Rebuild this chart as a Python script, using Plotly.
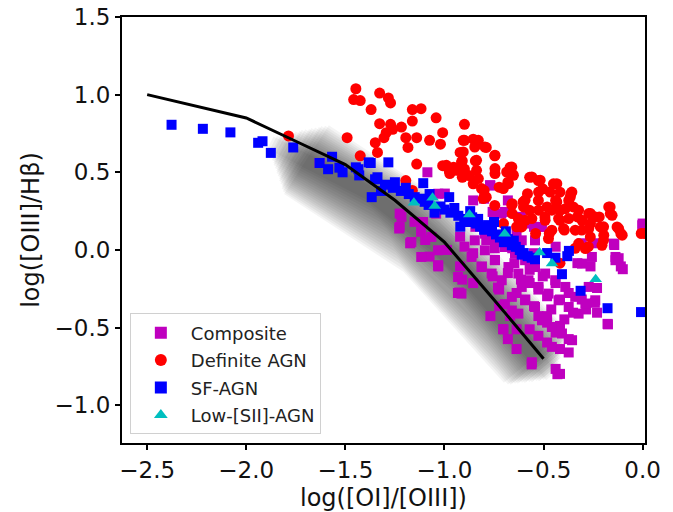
import numpy as np
import plotly.graph_objects as go

# Demarcation line
line_x = [-2.5, -2.0, -1.75, -1.5, -1.25, -1.0, -0.75, -0.5]
line_y = [1.0, 0.85, 0.70, 0.55, 0.32, 0.05, -0.32, -0.70]

# Composite (magenta squares)
comp_x = [-1.63, -1.086, -0.768, -1.031, -0.8, -1.042, -1.217, -1.151, -1.228, -1.118, -1.173, -1.097,
          -1.075, -1.031, -0.921, -0.899, -0.855, -0.921, -0.91, -0.932, -0.811, -0.746, -0.757, -0.724,
          -0.647, -0.68, -0.614, -0.57, -0.636, -0.592, -0.526, -0.482, -0.548, -0.461, -0.417, -0.373,
          -0.307, -0.241, -0.285, -0.351, -0.395, -0.482, -0.439, -0.373, -0.417, -0.373, -0.482, -0.526,
          -0.57, -0.636, -0.702, -0.68, -0.636, -0.559, -0.439, -0.417, -0.175, -0.23, -0.23, -0.11,
          -0.121, -0.143, 0.0, -0.329, -0.263, -0.241, -0.307, -0.439, -0.548, -0.746, -0.789, -0.636,
          -0.614, -0.548, -0.658, -0.57, -0.504, -0.439, -0.724, -0.768, -0.669, -0.482, -0.526, -0.417,
          -0.855, -0.987, -0.844, -0.757, -0.68, -0.713, -0.855, -0.43, -0.56, -0.704, -0.925, -0.1,
          -0.126, -0.177, -0.73, -0.695, -0.66,
          -0.77, -0.998, -0.753, -0.695, -0.576, -0.508, -0.145, -0.137, -0.002,
          -0.847, -0.796, -0.745, -0.677, -0.627, -0.576, -0.525, -0.475, -0.424, -0.373, -0.323,
          -0.593, -0.543, -0.508, -0.458, -0.407, -0.356, -0.458, -0.627, -0.66, -0.61, -0.711,
          -0.762, -0.813, -0.863, -0.272, -0.239, -0.289, -0.34, -0.39, -0.441, -0.492, -0.543,
          -0.593, -0.644, -0.695, -0.745, -0.796, -0.61, -0.543, -0.306, -0.256, -0.137,
          -1.226, -1.226, -1.167, -1.117, -1.032, -1.108, -1.066, -1.032, -0.914, -0.931]
comp_y = [0.56, 0.5, 0.415, 0.362, 0.33, 0.234, 0.213, 0.181, 0.138, 0.117, 0.043, 0.064,
          -0.043, -0.106, 0.085, 0.021, -0.021, -0.106, -0.191, -0.277, -0.106, -0.064, -0.17, -0.255,
          -0.085, -0.149, -0.191, -0.213, -0.277, -0.319, -0.255, -0.298, -0.362, -0.383, -0.319, -0.277,
          -0.319, -0.34, -0.383, -0.404, -0.447, -0.468, -0.532, -0.574, -0.638, -0.66, -0.596, -0.553,
          -0.511, -0.511, -0.511, -0.574, -0.638, -0.723, -0.766, -0.798, -0.479, -0.404, -0.245, -0.106,
          -0.053, 0.032, 0.17, -0.085, -0.106, 0.043, 0.043, 0.021, -0.021, 0.011, 0.064, 0.106,
          0.213, 0.149, 0.011, -0.128, -0.17, -0.213, -0.362, -0.426, -0.426, -0.426, -0.426, -0.489,
          -0.213, 0.0, 0.149, 0.245, 0.319, 0.234, 0.319, -0.8, -0.737, -0.51, -0.274, -0.124,
          -0.058, -0.476, -0.242, -0.349, -0.39,
          0.417, 0.363, 0.245, 0.245, 0.17, 0.148, 0.041, -0.045, 0.159,
          0.062, -0.002, -0.066, -0.11, -0.152, -0.195, -0.238, -0.281, -0.324, -0.367, -0.41,
          -0.324, -0.367, -0.453, -0.496, -0.538, -0.581, -0.624, -0.41, -0.302, -0.238, -0.195,
          -0.152, -0.11, -0.045, -0.238, -0.324, -0.345, -0.302, -0.238, -0.195, -0.152, -0.11,
          -0.066, -0.023, 0.019, 0.062, 0.105, 0.062, 0.062, -0.088, -0.045, -0.066,
          0.234, 0.148, 0.051, -0.045, -0.098, 0.18, 0.084, -0.002, -0.281, -0.174]

# Definite AGN (red circles)
agn_x = [-1.447, -1.458, -1.425, -1.327, -1.283, -1.272, -1.37, -1.162, -1.118, -1.042, -1.162, -1.327,
         -1.272, -1.217, -0.899, -1.261, -1.294, -1.305, -1.491, -1.195, -1.14, -1.075, -1.009, -0.899,
         -0.855, -0.833, -0.789, -1.02, -1.349, -1.184, -1.338, -0.921, -0.746, -0.91, -0.844, -1.14,
         -1.009, -0.954, -0.976, -0.899, -0.877, -0.91, -0.669, -0.658, -0.68, -0.724, -0.855, -0.8,
         -0.789, -1.195, -1.162, -1.425, -0.57, -0.526, -0.45, -0.504, -0.581, -0.417, -0.362, -0.373,
         -0.439, -0.526, -0.603, -0.658, -0.658, -0.57, -0.482, -0.417, -0.35, -0.329, -0.417, -0.493,
         -0.592, -0.263, -0.219, -0.164, -0.154, -0.121, -0.11, -0.197, -0.263, -0.307, -0.395, -0.471,
         -0.197, -0.274, -0.34, -0.417, 0.011, -0.54, -0.636, -0.702, -0.746, -1.787,
         -0.905, -0.829, -0.847, -0.796, -0.905, -0.745, -0.838, -0.914, -0.99, -0.94, -0.973, -0.838,
         -0.745, -0.745, -0.686, -0.66, -0.652, -0.829, -0.677, -0.703, -0.813, -0.804, -0.559, -0.517,
         -0.433, -0.467, -0.525, -0.357, -0.365, -0.433, -0.593, -0.66, -0.601, -0.525, -0.458, -0.39,
         -0.323, -0.272, -0.171, -0.163, -0.559, -0.492, -0.424, -0.373, -0.306, -0.239, -0.627, -0.61,
         -0.458, -0.399, -0.34, -0.272, -0.213, -0.129, -0.103, -0.196, -0.264, -0.475, -0.205, -0.289,
         -0.323, -0.007]
agn_y = [1.038, 0.968, 0.962, 1.01, 0.979, 0.947, 0.904, 0.904, 0.91, 0.851, 0.83, 0.813,
         0.809, 0.791, 0.809, 0.777, 0.755, 0.723, 0.723, 0.723, 0.723, 0.706, 0.755, 0.706,
         0.713, 0.681, 0.66, 0.681, 0.691, 0.66, 0.628, 0.628, 0.606, 0.574, 0.574, 0.553,
         0.543, 0.532, 0.51, 0.521, 0.479, 0.468, 0.532, 0.489, 0.436, 0.404, 0.426, 0.383,
         0.34, 0.447, 0.383, 0.606, 0.468, 0.447, 0.426, 0.394, 0.362, 0.372, 0.362, 0.319,
         0.319, 0.319, 0.309, 0.298, 0.234, 0.255, 0.277, 0.255, 0.277, 0.213, 0.191, 0.213,
         0.191, 0.234, 0.213, 0.277, 0.223, 0.138, 0.106, 0.149, 0.17, 0.128, 0.128, 0.106,
         0.064, 0.021, 0.011, -0.085, 0.106, 0.106, 0.149, 0.17, 0.287, 0.734,
         0.706, 0.706, 0.663, 0.663, 0.631, 0.61, 0.577, 0.566, 0.545, 0.513, 0.492, 0.513,
         0.524, 0.492, 0.502, 0.534, 0.481, 0.46, 0.427, 0.395, 0.395, 0.331, 0.47, 0.449,
         0.427, 0.373, 0.373, 0.373, 0.341, 0.309, 0.32, 0.288, 0.277, 0.256, 0.256, 0.266,
         0.256, 0.234, 0.277, 0.234, 0.202, 0.191, 0.202, 0.202, 0.191, 0.212, 0.202, 0.148,
         0.127, 0.138, 0.127, 0.138, 0.148, 0.148, 0.095, 0.095, 0.084, 0.073, 0.03, 0.009,
         0.041, 0.106]

# SF-AGN (blue squares)
sf_x = [-2.377, -2.219, -2.08, -1.94, -1.918, -1.876, -1.763, -1.63, -1.567, -1.587, -1.53, -1.514,
        -1.434, -1.43, -1.372, -1.367, -1.35, -1.382, -1.283, -1.447, -1.338, -1.107, -1.25, -1.195,
        -0.976, -1.075, -1.3, -1.32, -1.26, -1.22, -1.18, -1.15, -1.12, -1.1, -1.08, -1.02, -1.0,
        -0.97, -0.95, -0.93, -0.9, -0.88, -0.86, -0.84, -0.82, -0.8, -0.78, -0.76, -0.74, -0.72,
        -0.7, -0.68, -0.66, -0.64, -0.62, -0.6, -0.58, -0.56, -1.05, -0.92, -0.87, -0.75, -0.83,
        -0.69, -0.65, -0.372, -0.38, -0.44, -0.407, -0.313, -0.177, -0.008, -0.543, -0.61, -0.482]
sf_y = [0.806, 0.78, 0.757, 0.69, 0.70, 0.625, 0.66, 0.56, 0.60, 0.52, 0.53, 0.50,
        0.52, 0.48, 0.56, 0.34, 0.455, 0.564, 0.564, 0.532, 0.468, 0.43, 0.436, 0.40,
        0.34, 0.36, 0.42, 0.38, 0.40, 0.38, 0.36, 0.34, 0.33, 0.31, 0.29, 0.28, 0.26,
        0.24, 0.27, 0.22, 0.2, 0.18, 0.21, 0.17, 0.15, 0.13, 0.16, 0.12, 0.1, 0.08,
        0.05, 0.07, 0.03, 0.02, 0.0, -0.02, -0.04, -0.05, 0.24, 0.15, 0.25, 0.18, 0.2,
        0.12, 0.06, -0.006, -0.04, -0.05, -0.156, -0.263, -0.375, -0.40, -0.06, -0.03, -0.02]

# Low-[SII]-AGN (cyan triangles)
low_x = [-1.154, -1.06, -1.049, -0.874, -0.696, -0.52, -0.457, -0.237]
low_y = [0.304, 0.336, 0.283, 0.229, 0.105, -0.017, -0.088, -0.188]

fig = go.Figure()

# soft grey shading along the demarcation line (decorative blur, tapered ends)
base_x = [x + 0.04 for x in line_x[1:]]
base_y = [y - 0.11 for y in line_y[1:]]
n_pts = len(base_x)
t = np.linspace(0, n_pts - 1, 240)
sx = np.interp(t, np.arange(n_pts), base_x)
sy = np.interp(t, np.arange(n_pts), base_y)
n_layers = 18
for i in range(n_layers):
    w = 82 - i * 4
    frac = (n_layers - i) / n_layers
    trim_a = int(30 * frac) + 12
    trim_b = int(12 * frac)
    xs = sx[trim_a: len(sx) - trim_b]
    ys = sy[trim_a: len(sy) - trim_b]
    fig.add_trace(go.Scatter(x=xs, y=ys, mode="lines", showlegend=False, hoverinfo="skip",
                             line=dict(color="rgba(0,0,0,0.045)", width=w)))

fig.add_trace(go.Scatter(x=comp_x, y=comp_y, mode="markers", name="Composite", legendgroup="a",
                         marker=dict(symbol="square", color="#bf00bf", size=10)))
fig.add_trace(go.Scatter(x=agn_x, y=agn_y, mode="markers", name="Definite AGN", legendgroup="b",
                         marker=dict(symbol="circle", color="#ff0000", size=11)))
fig.add_trace(go.Scatter(x=sf_x, y=sf_y, mode="markers", name="SF-AGN", legendgroup="c",
                         marker=dict(symbol="square", color="#0000ff", size=10)))
fig.add_trace(go.Scatter(x=low_x, y=low_y, mode="markers", name="Low-[SII]-AGN", legendgroup="d",
                         marker=dict(symbol="triangle-up", color="#00bfbf", size=11)))
fig.add_trace(go.Scatter(x=line_x, y=line_y, mode="lines", showlegend=False,
                         line=dict(color="black", width=3)))

axis_common = dict(showgrid=False, zeroline=False, showline=True, linecolor="black", linewidth=2,
                   mirror=True, ticks="outside", ticklen=5, tickwidth=1.5, tickcolor="black",
                   automargin=False,
                   tickfont=dict(size=23, color="#111"), title_font=dict(size=24, color="#111"))

fig.update_layout(
    width=673, height=512,
    margin=dict(l=122, r=28, t=17, b=69),
    paper_bgcolor="white", plot_bgcolor="white",
    font=dict(family="DejaVu Sans"),
    xaxis=dict(range=[-2.627, 0.012], tickvals=[-2.5, -2.0, -1.5, -1.0, -0.5, 0.0],
               ticktext=["−2.5", "−2.0", "−1.5", "−1.0", "−0.5", "0.0"],
               title=dict(text="log([OI]/[OIII])", standoff=10), **axis_common),
    yaxis=dict(range=[-1.243, 1.5], tickvals=[-1.0, -0.5, 0.0, 0.5, 1.0, 1.5],
               ticktext=["−1.0", "−0.5", "0.0", "0.5", "1.0", "1.5"],
               title=dict(text="log([OIII]/Hβ)", standoff=8), **axis_common),
    legend=dict(x=0.015, y=0.02, xanchor="left", yanchor="bottom",
                bgcolor="rgba(255,255,255,0.85)", bordercolor="#d0d0d0", borderwidth=1,
                font=dict(size=18, color="#222"), itemsizing="constant", itemwidth=50,
                traceorder="grouped", tracegroupgap=1),
    showlegend=True,
)

fig.write_html("out.html", config={"displayModeBar": False},
               post_script="document.body.style.margin='0';document.body.style.overflow='hidden';")
